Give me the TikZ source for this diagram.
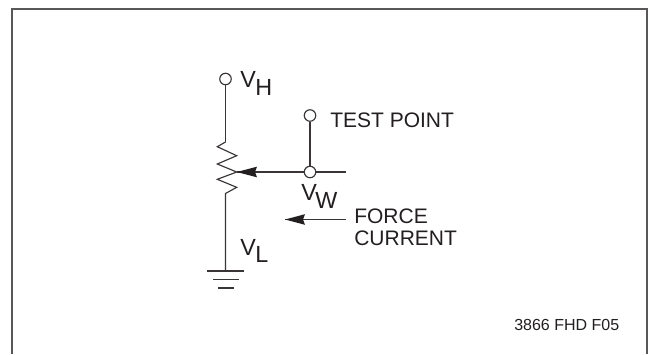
\documentclass[tikz,border=0pt]{standalone}
\usepackage{fontspec}
\setmainfont{Liberation Sans}
\definecolor{ink}{HTML}{231F20}
\tikzset{
  wire/.style={draw=ink!90,line width=0.85pt},
  term/.style={circle,draw=ink!90,fill=white,line width=0.85pt,minimum size=8.6pt,inner sep=0pt},
  lab/.style={anchor=base west,inner sep=0pt,text=ink,font=\fontsize{15.75}{18}\selectfont},
  sym/.style={anchor=base west,inner sep=0pt,text=ink,font=\fontsize{17.5}{20}\selectfont},
  small/.style={anchor=base west,inner sep=0pt,text=ink,font=\fontsize{12}{14}\selectfont},
  head/.style={fill=ink,draw=none}
}
\begin{document}
\begin{tikzpicture}[x=0.75pt,y=-0.75pt]
\useasboundingbox (0,0) rectangle (650,354);
\fill[white] (0,0) rectangle (650,354);
\draw[draw=ink!75,line width=1.2pt] (12,354) -- (12,9) -- (647,9) -- (647,354);
% terminals
\node[term] (vh) at (225.5,79) {};
\node[term] (tp) at (310,115.5) {};
\node[term] (vw) at (310,172) {};
% named points
\coordinate (rtop) at (225.5,142);
\coordinate (rbot) at (225.5,193.5);
\coordinate (wiper) at (236.7,172);
\coordinate (wend) at (346,172);
\coordinate (gnd) at (225.5,271);
\coordinate (ftail) at (346,219.5);
\coordinate (ftip) at (285,219.5);
% connectors
\draw[wire] (vh) -- (rtop);
\draw[wire,line join=miter] (rtop) -- (217.3,146.7) -- (236.7,155.7) -- (217.3,164) -- (wiper) -- (217.3,179.3) -- (236.7,187.3) -- (rbot) -- (gnd);
\draw[wire] (tp) -- (vw);
\draw[wire] (vw) -- (wiper);
\draw[wire] (vw) -- (wend);
\draw[wire] (ftail) -- (ftip);
% arrowheads
\fill[head] (wiper) -- (257,166.7) -- (255,172) -- (257,177.3) -- cycle;
\fill[head] (ftip) -- (305,214.2) -- (303,219.5) -- (305,224.8) -- cycle;
% ground
\draw[wire] (207,271) -- (244,271);
\draw[wire] (213,279.5) -- (239,279.5);
\draw[wire] (218,288) -- (234,288);
% labels
\node[sym] (lvh) at (240,87) {V};
\node[sym] (lvhs) at (255,95) {H};
\node[lab] (ltp) at (330,127.2) {TEST POINT};
\node[sym] (lvw) at (301,200) {V};
\node[sym] (lvws) at (315,208) {W};
\node[lab] (lf1) at (354,223.5) {FORCE};
\node[lab] (lf2) at (354,245) {CURRENT};
\node[sym] (lvl) at (240,255) {V};
\node[sym] (lvls) at (255,262.7) {L};
\node[small] (fig) at (514,330) {3866 FHD F05};
\end{tikzpicture}
\end{document}
